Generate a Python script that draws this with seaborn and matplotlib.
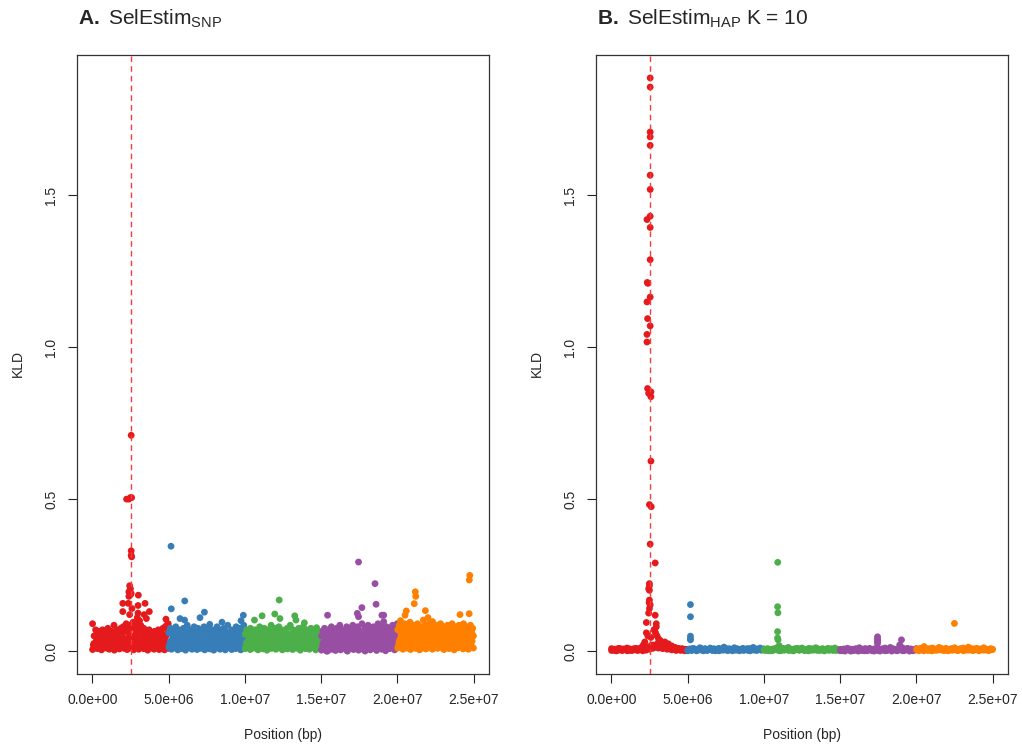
import numpy as np
import pandas as pd
import matplotlib
matplotlib.use("Agg")
import matplotlib.pyplot as plt
import seaborn as sns

# ---------------- data ----------------
chrom_names = ["chr1", "chr2", "chr3", "chr4", "chr5"]
chrom_starts = [0.0, 5e6, 1e7, 1.5e7, 2e7]
chrom_len = 5e6
colors = ["#E41A1C", "#377EB8", "#4DAF4A", "#984EA3", "#FF7F00"]
sweep_pos = 2.55e6

# Panel A: SelEstim SNP - background KLD values (per chromosome, ordered along position)
snp_bg_chr1 = [0.09,0.02,0.05,0.01,0.07,0.03,0.06,0.015,0.04,0.065,
               0.02,0.055,0.03,0.07,0.01,0.045,0.06,0.025,0.05,0.035,
               0.075,0.015,0.06,0.04,0.02,0.065,0.05,0.01,0.085,0.03,
               0.055,0.02,0.07,0.045,0.015,0.06,0.035,0.075,0.025,0.05,
               0.08,0.01,0.065,0.04,0.09,0.03,0.07,0.02,0.055,0.085,
               0.04,0.075,0.015,0.095,0.05,0.03,0.08,0.06,0.02,0.09,
               0.045,0.07,0.025,0.085,0.035,0.06,0.01,0.075,0.05,0.03,
               0.065,0.02,0.055,0.04,0.07,0.015,0.05,0.03,0.06,0.025,
               0.045,0.065,0.01,0.04,0.055,0.02,0.07,0.035,0.05,0.015,
               0.06,0.03,0.075,0.045,0.02,0.08,0.05,0.085,0.06,0.09]
snp_bg_chr2 = [0.06,0.02,0.075,0.035,0.01,0.05,0.065,0.025,0.045,0.08,
               0.015,0.055,0.03,0.07,0.04,0.02,0.06,0.01,0.05,0.075,
               0.035,0.065,0.02,0.045,0.085,0.03,0.055,0.015,0.07,0.04,
               0.06,0.025,0.05,0.08,0.01,0.045,0.065,0.03,0.075,0.02,
               0.055,0.04,0.07,0.015,0.06,0.035,0.08,0.025,0.05,0.065,
               0.01,0.045,0.075,0.03,0.06,0.02,0.055,0.07,0.04,0.015,
               0.065,0.035,0.05,0.08,0.025,0.06,0.01,0.045,0.07,0.03,
               0.055,0.02,0.075,0.04,0.065,0.015,0.05,0.085,0.035,0.06,
               0.025,0.045,0.07,0.01,0.055,0.03,0.065,0.04,0.08,0.02,
               0.05,0.06,0.035,0.075,0.015,0.045,0.065,0.03,0.085,0.05]
snp_bg_chr3 = [0.055,0.015,0.07,0.03,0.06,0.02,0.045,0.075,0.01,0.05,
               0.065,0.025,0.04,0.07,0.015,0.055,0.035,0.06,0.02,0.08,
               0.045,0.01,0.065,0.03,0.05,0.075,0.025,0.06,0.04,0.015,
               0.07,0.035,0.055,0.02,0.085,0.045,0.01,0.065,0.03,0.075,
               0.05,0.02,0.06,0.04,0.08,0.015,0.055,0.035,0.07,0.025,
               0.045,0.065,0.01,0.06,0.03,0.075,0.04,0.02,0.055,0.085,
               0.035,0.05,0.015,0.07,0.045,0.025,0.065,0.04,0.01,0.06,
               0.075,0.03,0.05,0.02,0.065,0.04,0.08,0.015,0.055,0.035,
               0.07,0.025,0.045,0.06,0.01,0.05,0.075,0.03,0.065,0.02,
               0.055,0.04,0.07,0.015,0.05,0.03,0.06,0.045,0.02,0.065]
snp_bg_chr4 = [0.05,0.01,0.065,0.03,0.075,0.02,0.055,0.04,0.0,0.07,
               0.035,0.06,0.015,0.08,0.045,0.025,0.065,0.005,0.055,0.04,
               0.075,0.02,0.06,0.03,0.085,0.045,0.01,0.07,0.035,0.05,
               0.02,0.065,0.04,0.08,0.0,0.055,0.03,0.075,0.015,0.06,
               0.045,0.085,0.025,0.065,0.035,0.05,0.01,0.08,0.04,0.07,
               0.02,0.06,0.045,0.09,0.03,0.055,0.005,0.075,0.04,0.065,
               0.025,0.085,0.05,0.015,0.07,0.035,0.06,0.02,0.08,0.045,
               0.055,0.01,0.075,0.04,0.09,0.03,0.065,0.02,0.05,0.085,
               0.035,0.07,0.015,0.06,0.045,0.08,0.025,0.055,0.04,0.075,
               0.01,0.065,0.03,0.085,0.05,0.02,0.07,0.045,0.06,0.09]
snp_bg_chr5 = [0.07,0.02,0.085,0.04,0.06,0.015,0.075,0.05,0.03,0.09,
               0.045,0.065,0.01,0.08,0.035,0.055,0.095,0.025,0.07,0.05,
               0.085,0.015,0.06,0.04,0.075,0.03,0.09,0.055,0.02,0.065,
               0.045,0.08,0.01,0.07,0.035,0.06,0.085,0.025,0.05,0.075,
               0.04,0.09,0.02,0.065,0.055,0.03,0.08,0.045,0.07,0.015,
               0.06,0.085,0.035,0.075,0.025,0.05,0.09,0.04,0.065,0.02,
               0.08,0.055,0.03,0.07,0.045,0.085,0.015,0.06,0.075,0.035,
               0.05,0.09,0.025,0.065,0.04,0.08,0.055,0.02,0.07,0.045,
               0.085,0.03,0.06,0.075,0.015,0.05,0.09,0.04,0.065,0.025,
               0.08,0.055,0.035,0.07,0.045,0.085,0.02,0.06,0.075,0.05]

# Panel A: second, denser layer of low KLD values near the baseline
snp_low_chr1 = [0.005,0.025,0.012,0.035,0.008,0.03,0.018,0.004,0.028,0.015,
                0.038,0.01,0.022,0.006,0.032,0.016,0.026,0.003,0.036,0.012,
                0.02,0.007,0.03,0.014,0.04,0.009,0.024,0.005,0.034,0.018,
                0.011,0.028,0.004,0.022,0.037,0.013,0.006,0.031,0.017,0.025,
                0.008,0.035,0.015,0.003,0.027,0.02,0.01,0.033,0.006,0.023,
                0.014,0.038,0.005,0.029,0.012,0.021,0.004,0.032,0.016,0.009]
snp_low_chr2 = [0.012,0.03,0.006,0.022,0.036,0.01,0.026,0.004,0.018,0.034,
                0.008,0.028,0.015,0.003,0.032,0.02,0.011,0.038,0.006,0.024,
                0.014,0.03,0.005,0.021,0.035,0.009,0.027,0.016,0.004,0.033,
                0.012,0.025,0.007,0.037,0.018,0.003,0.029,0.01,0.022,0.036,
                0.006,0.031,0.014,0.024,0.004,0.034,0.011,0.019,0.028,0.005,
                0.038,0.015,0.008,0.026,0.013,0.033,0.004,0.021,0.03,0.009]
snp_low_chr3 = [0.008,0.027,0.014,0.034,0.005,0.022,0.031,0.01,0.018,0.038,
                0.004,0.025,0.013,0.033,0.007,0.02,0.029,0.003,0.036,0.016,
                0.009,0.026,0.012,0.035,0.006,0.023,0.03,0.011,0.019,0.004,
                0.032,0.015,0.024,0.007,0.037,0.013,0.028,0.005,0.021,0.034,
                0.01,0.017,0.03,0.003,0.026,0.014,0.036,0.008,0.022,0.031,
                0.006,0.019,0.028,0.011,0.035,0.004,0.024,0.015,0.032,0.009]
snp_low_chr4 = [0.003,0.022,0.01,0.032,0.0,0.026,0.014,0.036,0.006,0.018,
                0.029,0.002,0.024,0.012,0.034,0.004,0.02,0.03,0.008,0.038,
                0.001,0.016,0.027,0.01,0.033,0.005,0.022,0.013,0.037,0.003,
                0.019,0.031,0.007,0.025,0.0,0.035,0.011,0.028,0.004,0.017,
                0.033,0.009,0.023,0.002,0.03,0.014,0.038,0.006,0.021,0.027,
                0.001,0.018,0.034,0.008,0.026,0.012,0.036,0.004,0.024,0.015]
snp_low_chr5 = [0.01,0.03,0.016,0.04,0.006,0.026,0.034,0.012,0.02,0.038,
                0.005,0.028,0.015,0.036,0.009,0.024,0.032,0.004,0.04,0.018,
                0.011,0.03,0.007,0.035,0.021,0.013,0.037,0.006,0.027,0.016,
                0.033,0.009,0.024,0.04,0.012,0.029,0.005,0.036,0.019,0.026,
                0.008,0.034,0.014,0.031,0.004,0.022,0.039,0.011,0.028,0.017,
                0.035,0.007,0.025,0.013,0.038,0.006,0.03,0.018,0.033,0.01]

# Panel A outliers (position in bp, KLD, chromosome index)
snp_out_pos = [2.55e6, 2.25e6, 2.4e6, 2.5e6, 2.58e6, 2.55e6, 2.55e6, 2.58e6,
               2.45e6, 2.5e6, 2.4e6, 2.5e6, 2.4e6, 2.55e6, 3.02e6, 2.0e6, 2.36e6,
               3.46e6, 3.0e6, 3.74e6, 2.0e6, 3.0e6, 3.55e6, 4.83e6, 2.95e6, 3.1e6,
               3.4e6, 2.45e6, 2.6e6,
               5.16e6, 6.06e6, 5.18e6, 7.35e6, 5.75e6, 6.05e6, 7.06e6, 8.5e6, 9.9e6, 7.7e6, 9.75e6,
               1.225e7, 1.113e7, 1.196e7, 1.063e7, 1.327e7, 1.335e7, 1.39e7, 1.47e7, 1.23e7,
               1.745e7, 1.853e7, 1.86e7, 1.767e7, 1.737e7, 1.542e7, 1.898e7, 1.91e7, 1.91e7, 1.745e7,
               2.474e7, 2.471e7, 2.117e7, 2.12e7, 2.11e7, 2.058e7, 2.05e7, 2.183e7, 2.17e7, 2.2e7,
               2.41e7, 2.47e7, 2.02e7, 2.23e7]
snp_out_kld = [0.71, 0.50, 0.50, 0.505, 0.505, 0.33, 0.315, 0.31,
               0.215, 0.205, 0.195, 0.185, 0.18, 0.19, 0.184, 0.157, 0.157,
               0.157, 0.15, 0.13, 0.13, 0.125, 0.107, 0.105, 0.11, 0.10,
               0.12, 0.12, 0.14,
               0.345, 0.165, 0.139, 0.128, 0.107, 0.102, 0.11, 0.095, 0.118, 0.088, 0.10,
               0.168, 0.116, 0.122, 0.102, 0.116, 0.102, 0.093, 0.077, 0.107,
               0.293, 0.222, 0.154, 0.143, 0.124, 0.118, 0.118, 0.118, 0.097, 0.113,
               0.249, 0.234, 0.195, 0.18, 0.156, 0.132, 0.118, 0.133, 0.102, 0.11,
               0.12, 0.123, 0.10, 0.097]
snp_out_chr = [0]*29 + [1]*11 + [2]*9 + [3]*10 + [4]*14

# Panel B: SelEstim HAP K=10 - background KLD values
hap_bg_chr1 = [0.008,0.003,0.006,0.001,0.009,0.004,0.002,0.007,0.005,0.01,
               0.002,0.006,0.003,0.008,0.005,0.002,0.007,0.011,0.004,0.008,
               0.003,0.012,0.006,0.016,0.009,0.02,0.013,0.026,0.011,0.022,
               0.018,0.03,0.014,0.024,0.01,0.017,0.007,0.012,0.005,0.009,
               0.003,0.008,0.002,0.006,0.004]
hap_bg_chr2 = [0.004,0.007,0.002,0.009,0.005,0.001,0.006,0.011,0.003,0.006,
               0.008,0.002,0.005,0.01,0.004,0.007,0.001,0.006,0.009,0.003,
               0.007,0.013,0.005,0.002,0.008,0.004,0.006,0.011,0.003,0.007,
               0.001,0.005,0.009,0.004,0.007,0.002,0.008,0.006,0.012,0.003,
               0.007,0.005,0.01,0.004,0.006]
hap_bg_chr3 = [0.006,0.002,0.008,0.004,0.001,0.007,0.005,0.01,0.003,0.006,
               0.002,0.009,0.004,0.007,0.012,0.003,0.006,0.001,0.008,0.005,
               0.003,0.007,0.01,0.004,0.002,0.006,0.009,0.003,0.007,0.005,
               0.011,0.002,0.006,0.004,0.008,0.001,0.005,0.009,0.003,0.007,
               0.004,0.01,0.002,0.006,0.005]
hap_bg_chr4 = [0.005,0.001,0.007,0.003,0.009,0.004,0.0,0.006,0.002,0.008,
               0.005,0.011,0.003,0.006,0.001,0.007,0.004,0.009,0.002,0.005,
               0.008,0.003,0.006,0.0,0.007,0.004,0.01,0.002,0.006,0.012,
               0.003,0.007,0.005,0.001,0.008,0.004,0.011,0.002,0.006,0.009,
               0.003,0.007,0.001,0.005,0.008]
hap_bg_chr5 = [0.007,0.003,0.009,0.005,0.001,0.006,0.004,0.008,0.002,0.01,
               0.005,0.003,0.007,0.012,0.004,0.006,0.002,0.009,0.005,0.003,
               0.008,0.004,0.011,0.006,0.002,0.007,0.005,0.01,0.003,0.006,
               0.013,0.004,0.008,0.002,0.006,0.009,0.003,0.007,0.005,0.011,
               0.004,0.006,0.002,0.008,0.005]

# Panel B: second layer near the baseline
hap_low_chr1 = [0.002,0.006,0.001,0.004,0.008,0.003,0.005,0.001,0.007,0.002,
                0.004,0.009,0.003,0.006,0.001,0.005,0.008,0.014,0.02,0.012,
                0.018,0.01,0.015,0.008,0.011,0.006,0.009,0.004,0.007,0.002,
                0.005,0.003,0.006,0.001,0.004]
hap_low_chr2 = [0.001,0.005,0.003,0.007,0.002,0.004,0.008,0.001,0.006,0.003,
                0.005,0.002,0.007,0.004,0.001,0.006,0.003,0.009,0.002,0.005,
                0.001,0.004,0.007,0.003,0.006,0.002,0.005,0.008,0.001,0.004,
                0.006,0.002,0.005,0.003,0.007]
hap_low_chr3 = [0.003,0.006,0.001,0.005,0.002,0.008,0.004,0.001,0.006,0.003,
                0.007,0.002,0.005,0.001,0.004,0.009,0.003,0.006,0.002,0.005,
                0.001,0.007,0.003,0.004,0.008,0.002,0.006,0.001,0.005,0.003,
                0.007,0.002,0.004,0.006,0.001]
hap_low_chr4 = [0.002,0.005,0.0,0.004,0.007,0.001,0.003,0.006,0.0,0.004,
                0.002,0.008,0.001,0.005,0.003,0.0,0.006,0.002,0.004,0.007,
                0.001,0.003,0.005,0.0,0.006,0.002,0.004,0.008,0.001,0.003,
                0.005,0.0,0.004,0.002,0.006]
hap_low_chr5 = [0.004,0.001,0.006,0.003,0.008,0.002,0.005,0.001,0.007,0.003,
                0.004,0.009,0.002,0.006,0.001,0.005,0.003,0.007,0.002,0.004,
                0.008,0.001,0.006,0.003,0.005,0.002,0.007,0.004,0.001,0.006,
                0.003,0.005,0.002,0.004,0.006]

# Panel B outliers
hap_out_pos = [2.55e6, 2.55e6, 2.55e6, 2.55e6, 2.55e6, 2.55e6, 2.55e6, 2.55e6, 2.34e6,
               2.55e6, 2.55e6, 2.36e6, 2.4e6, 2.55e6, 2.34e6, 2.38e6, 2.55e6, 2.34e6, 2.34e6,
               2.38e6, 2.6e6, 2.45e6, 2.6e6,
               2.6e6, 2.5e6, 2.62e6, 2.55e6, 2.88e6, 2.5e6, 2.5e6, 2.45e6, 2.5e6, 2.5e6,
               2.48e6, 2.55e6, 2.5e6, 2.88e6, 2.3e6, 2.95e6, 2.95e6, 2.45e6, 2.85e6, 2.9e6,
               2.3e6, 2.4e6, 2.6e6, 2.8e6, 3.0e6, 3.1e6, 3.2e6, 3.3e6, 3.5e6, 3.7e6, 2.2e6, 2.1e6,
               5.19e6, 5.19e6, 5.19e6, 5.19e6, 5.19e6,
               1.091e7, 1.09e7, 1.092e7, 1.09e7, 1.09e7, 1.093e7, 1.1e7,
               1.745e7, 1.745e7, 1.745e7, 1.745e7, 1.745e7, 1.902e7, 1.89e7,
               2.249e7, 2.05e7]
hap_out_kld = [1.886, 1.856, 1.708, 1.692, 1.664, 1.566, 1.519, 1.431, 1.42,
               1.394, 1.288, 1.213, 1.21, 1.165, 1.149, 1.094, 1.07, 1.042, 1.017,
               0.864, 0.853, 0.848, 0.837,
               0.625, 0.482, 0.475, 0.352, 0.29, 0.222, 0.215, 0.205, 0.20, 0.168,
               0.16, 0.152, 0.14, 0.118, 0.094, 0.09, 0.08, 0.125, 0.07, 0.06,
               0.06, 0.05, 0.045, 0.07, 0.05, 0.04, 0.035, 0.03, 0.025, 0.02, 0.03, 0.02,
               0.153, 0.113, 0.049, 0.04, 0.037,
               0.292, 0.146, 0.126, 0.064, 0.043, 0.037, 0.018,
               0.047, 0.04, 0.035, 0.03, 0.025, 0.037, 0.02,
               0.091, 0.015]
hap_out_chr = [0]*55 + [1]*5 + [2]*7 + [3]*7 + [4]*2

x_ticks = [0, 5e6, 1e7, 1.5e7, 2e7, 2.5e7]
x_tick_labels = ["0.0e+00", "5.0e+06", "1.0e+07", "1.5e+07", "2.0e+07", "2.5e+07"]
y_ticks = [0.0, 0.5, 1.0, 1.5]
y_tick_labels = ["0.0", "0.5", "1.0", "1.5"]


def build_frame(layers, out_pos, out_kld, out_chr):
    rows = []
    for bg_lists in layers:
        for i, vals in enumerate(bg_lists):
            n = len(vals)
            pos = np.linspace(chrom_starts[i] + 2e4, chrom_starts[i] + chrom_len - 2e4, n)
            rows.append(pd.DataFrame({"pos": pos, "kld": vals, "chrom": chrom_names[i], "order": i}))
    rows.append(pd.DataFrame({"pos": out_pos, "kld": out_kld,
                              "chrom": [chrom_names[c] for c in out_chr],
                              "order": out_chr}))
    df = pd.concat(rows, ignore_index=True)
    return df.sort_values("order", kind="stable").reset_index(drop=True)


df_snp = build_frame([[snp_bg_chr1, snp_bg_chr2, snp_bg_chr3, snp_bg_chr4, snp_bg_chr5],
                      [snp_low_chr1, snp_low_chr2, snp_low_chr3, snp_low_chr4, snp_low_chr5]],
                     snp_out_pos, snp_out_kld, snp_out_chr)
df_hap = build_frame([[hap_bg_chr1, hap_bg_chr2, hap_bg_chr3, hap_bg_chr4, hap_bg_chr5],
                      [hap_low_chr1, hap_low_chr2, hap_low_chr3, hap_low_chr4, hap_low_chr5]],
                     hap_out_pos, hap_out_kld, hap_out_chr)

# ---------------- style ----------------
sns.set_theme(style="white")
plt.rcParams["font.family"] = ["Liberation Sans", "DejaVu Sans"]
plt.rcParams["mathtext.fontset"] = "custom"
plt.rcParams["mathtext.rm"] = "Liberation Sans"
plt.rcParams["mathtext.it"] = "Liberation Sans:italic"
plt.rcParams["mathtext.bf"] = "Liberation Sans:bold"

W, H = 1022, 747
fig = plt.figure(figsize=(W / 100, H / 100), dpi=100)
fig.patch.set_facecolor("white")

ymax = max(max(snp_out_kld), max(hap_out_kld))
yr = (-0.04 * ymax, 1.04 * ymax)
xr = (-1e6, 2.6e7)

palette = dict(zip(chrom_names, colors))


def panel(left_px, df, title):
    ax = fig.add_axes([left_px / W, (H - 674) / H, 412 / W, (674 - 55) / H])
    sns.scatterplot(data=df, x="pos", y="kld", hue="chrom", palette=palette,
                    s=24, linewidth=0, alpha=1.0, legend=False, ax=ax, zorder=2)
    ax.axvline(sweep_pos, color="#FF3838", lw=1.0, ls=(0, (4, 3)), zorder=3)
    ax.set_xlim(*xr)
    ax.set_ylim(*yr)
    ax.set_xticks(x_ticks)
    ax.set_xticklabels(x_tick_labels, fontsize=10)
    ax.set_yticks(y_ticks)
    ax.set_yticklabels(y_tick_labels, fontsize=10, rotation=90, va="center")
    ax.tick_params(axis="both", direction="out", length=6.5, width=0.8, color="#222222",
                   bottom=True, left=True)
    ax.tick_params(axis="x", pad=7)
    ax.tick_params(axis="y", pad=7)
    ax.set_xlabel("")
    ax.set_ylabel("")
    for sp in ax.spines.values():
        sp.set_visible(True)
        sp.set_color("#333333")
        sp.set_linewidth(0.9)
    ax.set_facecolor("white")
    cx = (left_px + 206) / W
    fig.text(cx, 1 - 735 / H, "Position (bp)", ha="center", va="center", fontsize=10)
    fig.text((left_px - 59) / W, 1 - 363 / H, "KLD", ha="center", va="center",
             rotation=90, fontsize=10)
    fig.text((left_px + 1) / W, 1 - 25 / H, title, ha="left", va="baseline", fontsize=15)
    return ax


panel(77, df_snp, r"$\mathbf{A.}$ SelEstim$_\mathrm{SNP}$")
panel(596, df_hap, r"$\mathbf{B.}$ SelEstim$_\mathrm{HAP}$ K = 10")

fig.savefig("out.png", dpi=100, facecolor="white")
